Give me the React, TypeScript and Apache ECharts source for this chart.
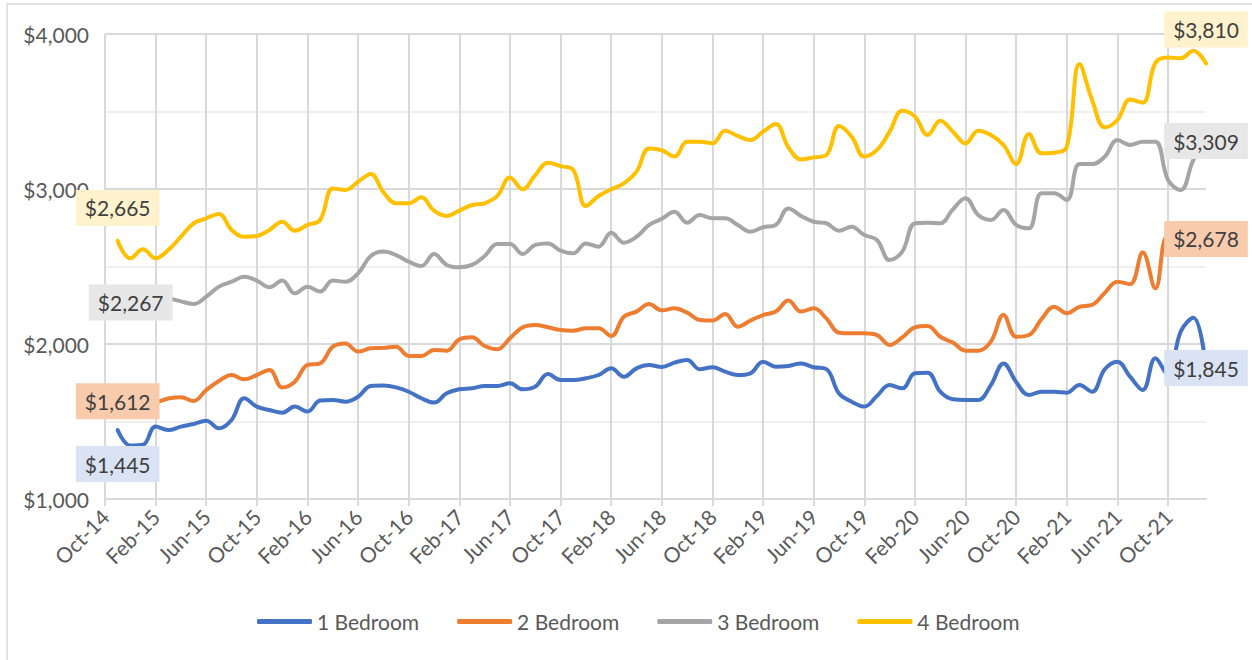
import React, { useEffect, useRef } from "react";
import * as echarts from "echarts";

const months = [
  "Oct-14", "Nov-14", "Dec-14",
  "Jan-15", "Feb-15", "Mar-15", "Apr-15", "May-15", "Jun-15", "Jul-15", "Aug-15", "Sep-15", "Oct-15", "Nov-15", "Dec-15",
  "Jan-16", "Feb-16", "Mar-16", "Apr-16", "May-16", "Jun-16", "Jul-16", "Aug-16", "Sep-16", "Oct-16", "Nov-16", "Dec-16",
  "Jan-17", "Feb-17", "Mar-17", "Apr-17", "May-17", "Jun-17", "Jul-17", "Aug-17", "Sep-17", "Oct-17", "Nov-17", "Dec-17",
  "Jan-18", "Feb-18", "Mar-18", "Apr-18", "May-18", "Jun-18", "Jul-18", "Aug-18", "Sep-18", "Oct-18", "Nov-18", "Dec-18",
  "Jan-19", "Feb-19", "Mar-19", "Apr-19", "May-19", "Jun-19", "Jul-19", "Aug-19", "Sep-19", "Oct-19", "Nov-19", "Dec-19",
  "Jan-20", "Feb-20", "Mar-20", "Apr-20", "May-20", "Jun-20", "Jul-20", "Aug-20", "Sep-20", "Oct-20", "Nov-20", "Dec-20",
  "Jan-21", "Feb-21", "Mar-21", "Apr-21", "May-21", "Jun-21", "Jul-21", "Aug-21", "Sep-21", "Oct-21", "Nov-21", "Dec-21",
  "Jan-22",
];

const oneBedroom = [
  null, 1445, 1345, 1350, 1467, 1445, 1467, 1484, 1505, 1456, 1510, 1650, 1596, 1574, 1557,
  1596, 1564, 1635, 1639, 1628, 1660, 1729, 1732, 1720, 1692, 1650, 1622,
  1682, 1708, 1714, 1729, 1729, 1746, 1708, 1725, 1806, 1768, 1768, 1779,
  1800, 1843, 1789, 1843, 1864, 1852, 1880, 1897, 1837, 1850, 1822, 1800,
  1811, 1886, 1854, 1858, 1875, 1850, 1838, 1680, 1628, 1596, 1665, 1735,
  1714, 1811, 1815, 1692, 1643, 1639, 1639, 1735, 1875, 1755, 1671, 1692,
  1692, 1686, 1736, 1692, 1837, 1886, 1789, 1703, 1908, 1800, 2080, 2170,
  1845,
];

const twoBedroom = [
  null, 1612, 1615, 1620, 1625, 1648, 1656, 1632, 1703, 1761, 1800, 1772, 1800, 1832, 1720,
  1757, 1865, 1875, 1983, 2004, 1951, 1972, 1975, 1983, 1923, 1923, 1961,
  1957, 2030, 2043, 1987, 1966, 2037, 2108, 2123, 2108, 2090, 2086, 2101,
  2101, 2052, 2176, 2209, 2258, 2217, 2230, 2202, 2155, 2151, 2194, 2112,
  2151, 2187, 2209, 2280, 2209, 2230, 2165, 2073, 2069, 2069, 2058, 1994,
  2043, 2107, 2116, 2047, 2009, 1957, 1957, 2015, 2187, 2047, 2058, 2160,
  2241, 2198, 2240, 2252, 2330, 2402, 2386, 2590, 2359, 2700, 2680, 2690,
  2678,
];

const threeBedroom = [
  null, 2267, 2290, 2305, 2310, 2295, 2275, 2258, 2305, 2370, 2402, 2434, 2409, 2366, 2409,
  2327, 2370, 2338, 2409, 2402, 2456, 2568, 2596, 2574, 2531, 2503, 2581,
  2510, 2495, 2510, 2568, 2645, 2645, 2581, 2639, 2649, 2602, 2585, 2649,
  2628, 2718, 2654, 2692, 2768, 2808, 2854, 2783, 2832, 2811, 2811, 2768,
  2725, 2753, 2768, 2875, 2826, 2789, 2779, 2731, 2757, 2703, 2671, 2542,
  2596, 2779, 2783, 2779, 2869, 2940, 2832, 2800, 2865, 2768, 2746, 2972,
  2972, 2929, 3161, 3161, 3209, 3316, 3284, 3305, 3305, 3058, 2994, 3187,
  3309,
];

const fourBedroom = [
  null, 2665, 2553, 2611, 2553, 2606, 2692, 2778, 2811, 2839, 2736, 2692, 2697, 2736, 2789,
  2731, 2768, 2800, 3004, 2994, 3047, 3097, 2980, 2908, 2908, 2946, 2860,
  2826, 2860, 2897, 2908, 2955, 3075, 2998, 3090, 3170, 3148, 3123, 2890,
  2955, 2998, 3037, 3112, 3262, 3250, 3209, 3305, 3305, 3295, 3376, 3342,
  3316, 3370, 3419, 3269, 3191, 3204, 3219, 3406, 3338, 3209, 3252, 3370,
  3505, 3467, 3348, 3440, 3370, 3294, 3376, 3348, 3284, 3161, 3355, 3230,
  3234, 3273, 3806, 3574, 3398, 3445, 3578, 3557, 3815, 3849, 3843, 3892,
  3810,
];

const seriesNames = ["1 Bedroom", "2 Bedroom", "3 Bedroom", "4 Bedroom"];
const seriesValues = [oneBedroom, twoBedroom, threeBedroom, fourBedroom];
const lineColors = ["#4472C4", "#ED7D31", "#A5A5A5", "#FFC000"];
const labelBackgrounds = ["#DAE3F3", "#F8CBAD", "#E7E7E7", "#FFF2CC"];
const firstLabelOffsets = [[0, 34], [0, -3], [13, 0], [0, -33]];
const lastLabelOffsets = [[0, 0], [0, 0], [0, 0], [0, -34]];

const FONT = "Lato, 'Liberation Sans', sans-serif";

const fmtDollar = (v: number) => "$" + Number(v).toLocaleString("en-US");

function buildData(values: (number | null)[], si: number) {
  let first = -1;
  let last = -1;
  values.forEach((v, i) => {
    if (v != null) {
      if (first < 0) first = i;
      last = i;
    }
  });
  return values.map((v, i) => {
    if (v == null) return null;
    if (i === first || i === last) {
      return {
        value: v,
        symbol: "circle",
        symbolSize: 1,
        itemStyle: { color: "rgba(0,0,0,0)" },
        label: {
          show: true,
          position: "inside",
          offset: i === first ? firstLabelOffsets[si] : lastLabelOffsets[si],
          formatter: (p: any) => fmtDollar(p.value),
          backgroundColor: labelBackgrounds[si],
          color: "#404040",
          fontSize: 21,
          fontFamily: FONT,
          lineHeight: 22,
          padding: [7, 9, 7, 9],
        },
      };
    }
    return { value: v, symbol: "none" };
  });
}

export default function App() {
  const ref = useRef<HTMLDivElement>(null);

  useEffect(() => {
    if (!ref.current) return;
    const chart = echarts.init(ref.current, undefined, { renderer: "svg" });
    const option: any = {
      animation: false,
      backgroundColor: "#FFFFFF",
      textStyle: { fontFamily: FONT },
      graphic: [
        {
          type: "rect",
          shape: { x: 7, y: 4, width: 1262, height: 670 },
          style: { fill: "none", stroke: "#D9D9D9", lineWidth: 1.5 },
          silent: true,
          z: -1,
        },
      ],
      grid: { left: 105, right: 46, top: 34, bottom: 161 },
      legend: {
        data: seriesNames,
        left: 252,
        top: 606,
        icon: "roundRect",
        itemWidth: 55,
        itemHeight: 5,
        itemGap: 38,
        textStyle: { fontSize: 21, color: "#595959", fontFamily: FONT },
      },
      xAxis: {
        type: "category",
        data: months,
        boundaryGap: false,
        axisLine: { show: true, lineStyle: { color: "#D9D9D9", width: 2 } },
        axisTick: { show: true, interval: 3, length: 7, lineStyle: { color: "#D9D9D9", width: 2 } },
        axisLabel: {
          interval: 3,
          rotate: 45,
          margin: 14,
          fontSize: 21,
          color: "#595959",
          fontFamily: FONT,
        },
        splitLine: { show: true, interval: 3, lineStyle: { color: "#D9D9D9", width: 2 } },
      },
      yAxis: {
        type: "value",
        min: 1000,
        max: 4000,
        interval: 1000,
        axisLine: { show: false },
        axisTick: { show: false },
        axisLabel: {
          formatter: (v: number) => fmtDollar(v),
          fontSize: 21,
          color: "#595959",
          margin: 16,
          fontFamily: FONT,
        },
        splitLine: { show: true, lineStyle: { color: "#D9D9D9", width: 2 } },
        minorTick: { show: false, splitNumber: 2 },
        minorSplitLine: { show: true, lineStyle: { color: "#F0F0F0", width: 2 } },
      },
      series: seriesNames.map((name, si) => ({
        name,
        type: "line",
        smooth: 0.4,
        showAllSymbol: true,
        connectNulls: false,
        color: lineColors[si],
        lineStyle: { width: 4, color: lineColors[si], cap: "round", join: "round" },
        emphasis: { disabled: true },
        data: buildData(seriesValues[si], si),
      })),
    };
    chart.setOption(option);
    return () => chart.dispose();
  }, []);

  return (
    <div
      ref={ref}
      style={{ position: "absolute", left: 0, top: 0, width: 1252, height: 660, background: "#fff" }}
    />
  );
}
